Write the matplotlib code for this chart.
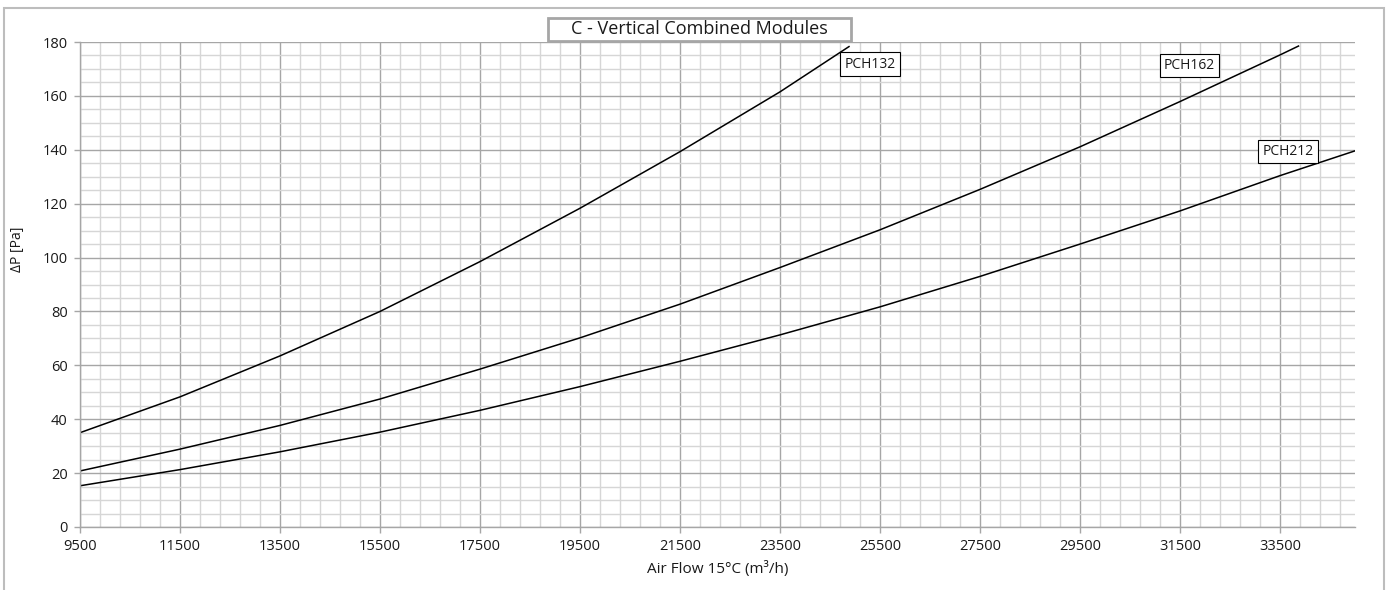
import numpy as np
import matplotlib
matplotlib.use('Agg')
import matplotlib.pyplot as plt
from matplotlib.patches import Rectangle
from matplotlib.ticker import MultipleLocator, FixedLocator

plt.rcParams['font.family'] = ['Open Sans', 'DejaVu Sans']

# values
flow_132 = [9500, 11500, 13500, 15500, 17500, 19500, 21500, 23500, 24880]
dp_132 = [35.0, 48.3, 63.5, 80.0, 98.5, 118.3, 139.3, 161.5, 178.3]

flow_162 = [9500, 11500, 13500, 15500, 17500, 19500, 21500, 23500, 25500, 27500, 29500, 31500, 33500, 33870]
dp_162 = [20.8, 28.9, 37.7, 47.5, 58.6, 70.2, 82.7, 96.3, 110.3, 125.3, 141.1, 157.9, 175.2, 178.5]

flow_212 = [9500, 11500, 13500, 15500, 17500, 19500, 21500, 23500, 25500, 27500, 29500, 31500, 33500, 35000]
dp_212 = [15.3, 21.3, 27.9, 35.2, 43.3, 52.1, 61.5, 71.3, 81.7, 93.0, 105.0, 117.3, 130.4, 139.6]

labels = ['PCH132', 'PCH162', 'PCH212']
label_pos = [(25300, 171.8), (31690, 171.3), (33660, 139.4)]

x_ticks = list(range(9500, 35000, 2000))
y_ticks = list(range(0, 181, 20))

fig = plt.figure(figsize=(13.91, 5.90), dpi=100)
ax = fig.add_axes([80/1391, 1-527/590, 1275/1391, 485/590])

# outer frame of the chart
fig.patches.append(Rectangle((4/1391, -0.05), 1380/1391, 1.05-8/590, transform=fig.transFigure,
                             fill=False, edgecolor='#bdbdbd', linewidth=1.5))

ax.set_xlim(9500, 35000)
ax.set_ylim(0, 180)
ax.xaxis.set_major_locator(FixedLocator(x_ticks))
ax.xaxis.set_minor_locator(MultipleLocator(400, offset=9500))
ax.yaxis.set_major_locator(FixedLocator(y_ticks))
ax.yaxis.set_minor_locator(MultipleLocator(5))

ax.grid(True, which='minor', color='#d6d6d6', linewidth=1.0)
ax.grid(True, which='major', color='#a6a6a6', linewidth=1.0)
ax.set_axisbelow(True)

for s in ['top', 'right']:
    ax.spines[s].set_visible(False)
for s in ['left', 'bottom']:
    ax.spines[s].set_color('#a6a6a6')
    ax.spines[s].set_linewidth(1.0)

ax.tick_params(which='major', length=4, width=1, color='#a6a6a6', labelsize=10.5, labelcolor='#1a1a1a', pad=5)
ax.tick_params(which='minor', length=0)

ax.plot(flow_132, dp_132, color='black', linewidth=1.1)
ax.plot(flow_162, dp_162, color='black', linewidth=1.1)
ax.plot(flow_212, dp_212, color='black', linewidth=1.1)

for lab, (lx, ly) in zip(labels, label_pos):
    ax.text(lx, ly, lab, ha='center', va='center', fontsize=10, color='#1a1a1a',
            bbox=dict(boxstyle='square,pad=0.3', facecolor='white', edgecolor='black', linewidth=0.8))

ax.set_xlabel('Air Flow 15°C (m³/h)', fontsize=11, color='#1a1a1a', labelpad=5)
ax.set_ylabel('ΔP [Pa]', fontsize=10, color='#1a1a1a')
ax.yaxis.set_label_coords(-0.043, 0.573)

# title box
fig.patches.append(Rectangle((548/1391, 1-41/590), 303/1391, 23/590, transform=fig.transFigure,
                             facecolor='white', edgecolor='#a6a6a6', linewidth=2))
fig.text(699.5/1391, 1-29.5/590, 'C - Vertical Combined Modules', ha='center', va='center',
         fontsize=13, color='#1a1a1a')

fig.savefig('out.png', dpi=100)
